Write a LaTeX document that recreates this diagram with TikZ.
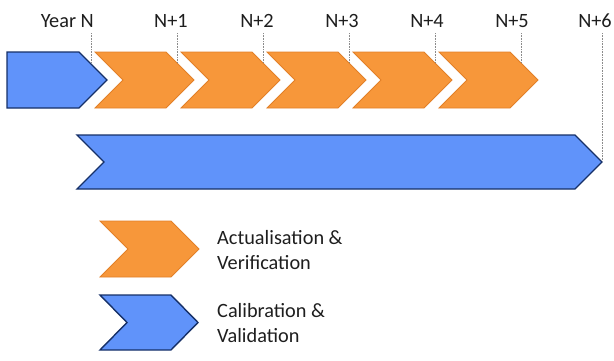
\documentclass[tikz,border=0pt]{standalone}
\usepackage{fontspec}
\setmainfont{Carlito}
\definecolor{orfill}{RGB}{247,151,58}
\definecolor{ordraw}{RGB}{226,128,40}
\definecolor{blfill}{RGB}{96,147,250}
\definecolor{bldraw}{RGB}{22,48,104}
\definecolor{txt}{RGB}{30,30,30}
\definecolor{dotc}{RGB}{140,140,140}
\begin{document}
\begin{tikzpicture}[x=1pt,y=-1pt,
  orch/.style={fill=orfill,draw=ordraw,line width=0.8pt,line join=miter},
  blch/.style={fill=blfill,draw=bldraw,line width=1.4pt,line join=miter},
  yr/.style={font=\fontsize{20.3}{24}\selectfont,text=txt,inner sep=0pt,anchor=base},
  lg/.style={font=\fontsize{20.3}{24.5}\selectfont,text=txt,inner sep=0pt,anchor=west,align=left},
  tick/.style={draw=dotc,line width=0.9pt,dash pattern=on 0.9pt off 0.7pt}]
\useasboundingbox (0,0) rectangle (614,360);
% first blue (pentagon)
\draw[blch] (7,52) -- (79,52) -- (107,80) -- (79,108) -- (7,108) -- cycle;
% orange chevrons
\foreach \x in {95,181,267,353,439}{
  \draw[orch] (\x,52) -- ++(71,0) -- ++(28,28) -- ++(-28,28) -- ++(-71,0) -- ++(28,-28) -- cycle;
}
% big blue
\draw[blch] (77,135) -- (575,135) -- (602,162) -- (575,189) -- (77,189) -- (104,162) -- cycle;
% labels
\node[yr,anchor=base east] (yN) at (94,27) {Year N};
\node[yr] (n1) at (171,27) {N+1};
\node[yr] (n2) at (257,27) {N+2};
\node[yr] (n3) at (342,27) {N+3};
\node[yr] (n4) at (427,27) {N+4};
\node[yr] (n5) at (512,27) {N+5};
\node[yr] (n6) at (595,27) {N+6};
% tick coordinates
\coordinate (t0) at (91,63);
\coordinate (t1) at (177,63);
\coordinate (t2) at (263,63);
\coordinate (t3) at (349,63);
\coordinate (t4) at (435,63);
\coordinate (t5) at (521,63);
\coordinate (t6) at (602,161);
\draw[tick] (91,33) -- (t0);
\draw[tick] (177,33) -- (t1);
\draw[tick] (263,33) -- (t2);
\draw[tick] (349,33) -- (t3);
\draw[tick] (435,33) -- (t4);
\draw[tick] (521,33) -- (t5);
\draw[tick] (602,33) -- (t6);
% legend
\draw[orch] (100,221) -- ++(71,0) -- ++(28,28) -- ++(-28,28) -- ++(-71,0) -- ++(28,-28) -- cycle;
\draw[blch] (100,295) -- ++(71,0) -- ++(27,27.5) -- ++(-27,27.5) -- ++(-71,0) -- ++(27,-27.5) -- cycle;
\node[lg] (la) at (217,250) {Actualisation \&\\Verification};
\node[lg] (lb) at (217,323) {Calibration \&\\Validation};
\end{tikzpicture}
\end{document}
